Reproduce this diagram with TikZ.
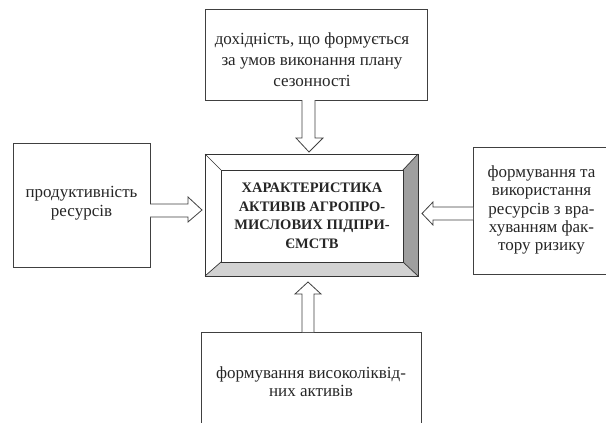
\documentclass[tikz,border=0pt]{standalone}
\usepackage{fontspec}
\setmainfont{Liberation Serif}
\usetikzlibrary{calc}
\begin{document}
\begin{tikzpicture}[x=1pt,y=-1pt,
  box/.style={draw=black!75, line width=0.8pt, inner sep=0pt, anchor=north west},
  txt/.style={align=center, font=\fontsize{17}{21}\selectfont, text=black!85, inner sep=0pt},
  barrow/.style={draw=black!75, fill=white, line width=0.8pt, line join=miter},
  bevel/.style={draw=black!80, line width=0.7pt}]
\useasboundingbox (0,0) rectangle (606,423);
% boxes
\node[box, minimum width=222pt, minimum height=91pt] (top) at (205,9) {};
\node[txt] (toptxt) at (312,60) {дохідність, що формується\\за умов виконання плану\\сезонності};
\node[box, minimum width=137pt, minimum height=124pt] (left) at (13,143) {};
\node[txt, font=\fontsize{17}{19}\selectfont] (lefttxt) at (81.5,203) {продуктивність\\ресурсів};
\node[box, minimum width=140pt, minimum height=127pt] (right) at (473,147) {};
\node[txt, font=\fontsize{17}{18.4}\selectfont] (righttxt) at (541.5,210) {формування та\\використання\\ресурсів з вра-\\хуванням фак-\\тору ризику};
\node[box, minimum width=220pt, minimum height=95pt] (bottom) at (201,332) {};
\node[txt, font=\fontsize{17}{18}\selectfont] (bottomtxt) at (311,382) {формування високоліквід-\\них активів};
% central bevelled box
\coordinate (o1) at (205,154); \coordinate (o2) at (418,154);
\coordinate (o3) at (418,276); \coordinate (o4) at (205,276);
\coordinate (i1) at (221,170); \coordinate (i2) at (403,170);
\coordinate (i3) at (403,262); \coordinate (i4) at (221,262);
\fill[white] (o1) rectangle (o3);
\fill[gray!75] (o2) -- (o3) -- (i3) -- (i2) -- cycle;
\fill[gray!35] (o4) -- (o3) -- (i3) -- (i4) -- cycle;
\draw[bevel] (o1) -- (i1) (o2) -- (i2) (o3) -- (i3) (o4) -- (i4);
\draw[bevel] (i1) rectangle (i3);
\draw[bevel, line width=0.9pt] (o1) rectangle (o3);
\node[align=center, inner sep=0pt, font=\bfseries\fontsize{14.5}{18.5}\selectfont, text=black!85] (main) at (312,216)
  {ХАРАКТЕРИСТИКА\\АКТИВІВ АГРОПРО-\\МИСЛОВИХ ПІДПРИ-\\ЄМСТВ};
% block arrows
\draw[barrow] (302,100) -- (302,138) -- (296,138) -- (309,152) -- (323,138) -- (315,138) -- (315,100);
\draw[barrow] (302,332) -- (302,294) -- (295,294) -- (308,282) -- (321,294) -- (314,294) -- (314,332);
\draw[barrow] (150,204) -- (188,204) -- (188,197) -- (202,210) -- (188,222) -- (188,217) -- (150,217);
\draw[barrow] (473,207) -- (433,207) -- (433,202) -- (422,213.5) -- (433,225) -- (433,220) -- (473,220);
\end{tikzpicture}
\end{document}
